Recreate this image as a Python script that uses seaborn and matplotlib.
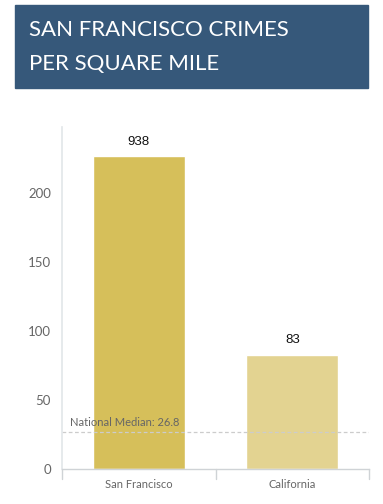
import matplotlib
matplotlib.use("Agg")
import matplotlib.pyplot as plt
import seaborn as sns
import pandas as pd
from matplotlib.patches import Rectangle

categories = ["San Francisco", "California"]
crimes_per_sq_mile = [938, 83]
bar_colors = ["#d6bf5a", "#e3d391"]
axis_cap = 227          # SF bar is drawn cut off at this height
national_median = 26.8
yticks = [0, 50, 100, 150, 200]

sns.set_theme(style="white")
plt.rcParams["font.family"] = ["Lato", "DejaVu Sans"]

df = pd.DataFrame({"place": categories,
                   "value": crimes_per_sq_mile,
                   "shown": [min(v, axis_cap) for v in crimes_per_sq_mile]})

fig = plt.figure(figsize=(3.83, 5.04), dpi=100)
ax = fig.add_axes([62/383, 1-469/504, (369-62)/383, (469-127)/504])

sns.barplot(data=df, x="place", y="shown", hue="place", palette=bar_colors,
            width=0.6, ax=ax, legend=False, saturation=1)

ax.set_ylim(0, 248)
ax.set_xlim(-0.5, 1.5)
ax.set_yticks(yticks)
ax.set_xlabel("")
ax.set_ylabel("")

for i, (v, s) in enumerate(zip(df["value"], df["shown"])):
    ax.text(i, s + 6, f"{v}", ha="center", va="bottom", fontsize=9.5,
            color="#111111", family=["Liberation Sans", "DejaVu Sans"])

ax.axhline(national_median, color="#cccccc", lw=0.9, ls=(0, (3, 2)))
ax.text(-0.45, national_median + 3, f"National Median: {national_median}",
        fontsize=8, color="#666666", ha="left", va="bottom")

for side in ["top", "right"]:
    ax.spines[side].set_visible(False)
ax.spines["left"].set_color("#e2e6e9")
ax.spines["left"].set_linewidth(1.2)
ax.spines["bottom"].set_color("#cfd3d6")
ax.spines["bottom"].set_linewidth(1.0)

ax.tick_params(axis="y", length=0, labelsize=9.5, labelcolor="#666666", pad=8)
ax.tick_params(axis="x", length=0, labelsize=8, labelcolor="#666666", pad=7)
for xb in [-0.5, 0.5, 1.5]:
    ax.plot([xb, xb], [0, -0.03], transform=ax.get_xaxis_transform(),
            color="#cfd3d6", lw=1.0, clip_on=False)

# title banner
fig.patches.append(Rectangle((15/383, 1-88/504), (368-15)/383, (88-5)/504,
                             transform=fig.transFigure, color="#36587a", zorder=0))
fig.text(29/383, 1-30/504, "SAN FRANCISCO CRIMES", color="white", fontsize=16,
         va="center", ha="left")
fig.text(29/383, 1-64/504, "PER SQUARE MILE", color="white", fontsize=16,
         va="center", ha="left")

fig.savefig("out.png", dpi=100)
